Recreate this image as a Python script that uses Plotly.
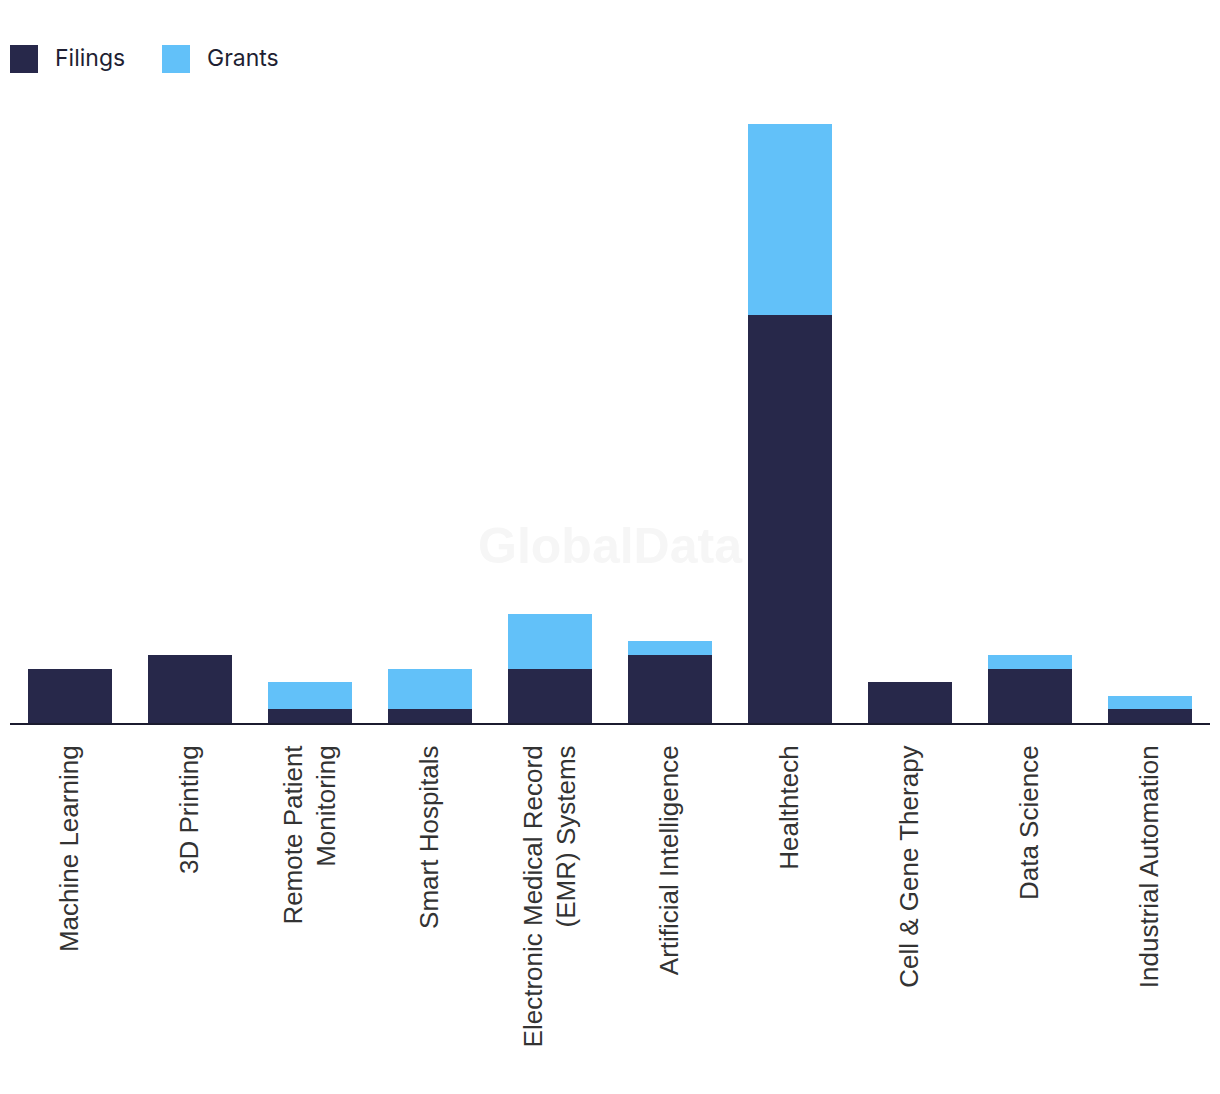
import plotly.graph_objects as go

categories = [
    "Machine Learning",
    "3D Printing",
    "Remote Patient<br>Monitoring",
    "Smart Hospitals",
    "Electronic Medical Record<br>(EMR) Systems",
    "Artificial Intelligence",
    "Healthtech",
    "Cell & Gene Therapy",
    "Data Science",
    "Industrial Automation",
]
filings = [4, 5, 1, 1, 4, 5, 30, 3, 4, 1]
grants = [0, 0, 2, 3, 4, 1, 14, 0, 1, 1]

NAVY = "#27284a"
BLUE = "#62c1f9"

fig = go.Figure()
fig.add_trace(go.Bar(x=categories, y=filings, name="Filings", marker=dict(color=NAVY, line=dict(width=0)), showlegend=False))
fig.add_trace(go.Bar(x=categories, y=grants, name="Grants", marker=dict(color=BLUE, line=dict(width=0)), showlegend=False))

# page body adds an 8px offset; work in page pixel coordinates
OFF = 8
W, H = 1220 - OFF, 1094 - OFF
L, R, T, B = 10 - OFF, 10, 124 - OFF, 1094 - 723
pw, ph = W - L - R, H - T - B


def px(x):
    return (x - OFF - L) / pw


def py(y):
    return (H - B - (y - OFF)) / ph


shapes = []
annotations = []
legend_items = [("Filings", NAVY, 10, 55), ("Grants", BLUE, 162, 207)]
for name, col, sx, tx in legend_items:
    shapes.append(dict(type="rect", xref="paper", yref="paper", x0=px(sx), x1=px(sx + 28),
                       y0=py(73), y1=py(45), fillcolor=col, line=dict(width=0)))
    annotations.append(dict(xref="paper", yref="paper", x=px(tx), y=py(58), text=name,
                            showarrow=False, xanchor="left", yanchor="middle", xshift=-2,
                            font=dict(family="Inter, Roboto, sans-serif", size=23, color="#1f1f33")))

# watermark behind bars
shapes.append(dict(type="rect", xref="paper", yref="paper", x0=px(460), x1=px(760), y0=py(571), y1=py(511),
                   fillcolor="rgba(0,0,0,0)", line=dict(width=0), layer="below",
                   label=dict(text="<b>GlobalData</b>", font=dict(family="Liberation Sans, Arial, sans-serif", size=50, color="#f6f6f6"),
                              textposition="middle center")))

fig.update_layout(
    width=W, height=H,
    margin=dict(l=L, r=R, t=T, b=B, autoexpand=False),
    barmode="stack",
    bargap=0.3,
    plot_bgcolor="white",
    paper_bgcolor="white",
    shapes=shapes,
    annotations=annotations,
    showlegend=False,
    xaxis=dict(
        showline=True, linecolor="#1b1b2f", linewidth=2,
        tickangle=-90, ticks="", ticklabelstandoff=10,
        tickfont=dict(family="Liberation Sans, Arial, sans-serif", size=26, color="#333333"),
        showgrid=False, automargin=False, fixedrange=True,
    ),
    yaxis=dict(visible=False, range=[0, 44], showgrid=False, fixedrange=True),
)

fig.write_html("out.html")
